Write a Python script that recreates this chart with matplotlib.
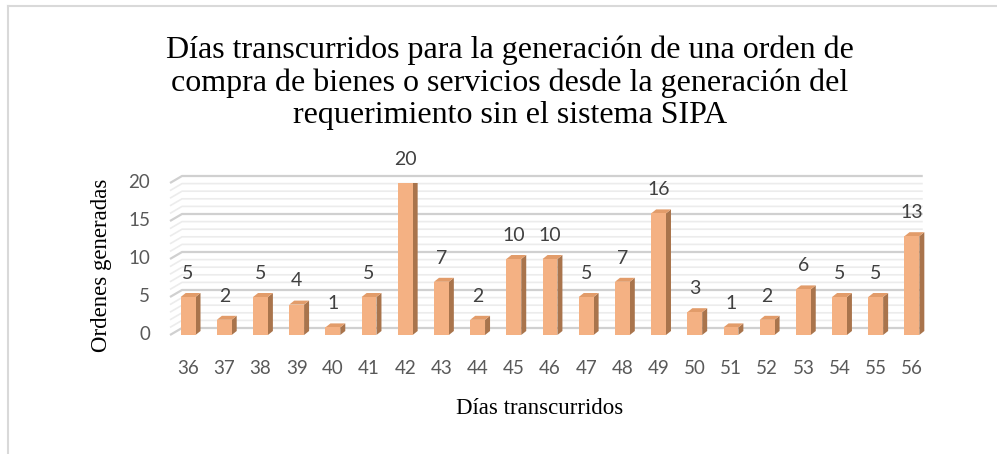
import numpy as np
import matplotlib
matplotlib.use('Agg')
import matplotlib.pyplot as plt
from matplotlib.patches import Polygon
from matplotlib.lines import Line2D

dias = ['36', '37', '38', '39', '40', '41', '42', '43', '44', '45', '46',
        '47', '48', '49', '50', '51', '52', '53', '54', '55', '56']
ordenes = [5, 2, 5, 4, 1, 5, 20, 7, 2, 10, 10, 5, 7, 16, 3, 1, 2, 6, 5, 5, 13]
yticks = [0, 5, 10, 15, 20]

title = ('Días transcurridos para la generación de una orden de\n'
         'compra de bienes o servicios desde la generación del\n'
         'requerimiento sin el sistema SIPA')

front = '#f4b183'
side = '#a9744c'
top = '#e29c6a'

fig = plt.figure(figsize=(9.97, 4.54), dpi=100)
W, H = 997, 454

# light outer frame
fig.add_artist(Line2D([8 / W, 1], [1 - 6 / H, 1 - 6 / H], color='#d9d9d9', lw=1.5))
fig.add_artist(Line2D([8 / W, 8 / W], [0, 1 - 6 / H], color='#d9d9d9', lw=1.5))

ax = fig.add_axes([170 / W, (H - 335) / H, 760 / W, 152 / H])
n = len(dias)
ax.set_xlim(-0.5, n - 0.5)
ax.set_ylim(0, 20)
for s in ax.spines.values():
    s.set_visible(False)
ax.set_xticks([])
ax.set_yticks([])

# pixel -> data conversion
sx = n / 760.0
sy = 20 / 152.0

# back wall grid (offset up/right) with perspective stub on the left
gx, gy = 12 * sx, 7 * sy
for v in range(0, 21):
    major = v % 5 == 0
    c = '#d0d0d0' if major else '#ececec'
    lw = 1.6 if major else 1.2
    ax.plot([-0.5, -0.5 + gx, n - 0.5 - 0.2], [v, v + gy, v + gy],
            color=c, lw=lw, zorder=0, clip_on=False, solid_capstyle='butt')

# bars with a simple 3D look
w = 0.41
dx, dy = 5 * sx, 4 * sy
x = np.arange(n)
ax.bar(x, ordenes, width=w, color=front, zorder=3)
for xi, h in zip(x, ordenes):
    r = xi + w / 2
    l = xi - w / 2
    ax.add_patch(Polygon([[r, 0], [r + dx, dy], [r + dx, h + dy], [r, h]],
                         closed=True, color=side, lw=0, zorder=2))
    ax.add_patch(Polygon([[l, h], [r, h], [r + dx, h + dy], [l + dx, h + dy]],
                         closed=True, color=top, lw=0, zorder=2))
    ax.annotate(str(h), (xi, h), xytext=(0, 11), textcoords='offset points',
                ha='center', va='bottom', fontsize=14, color='#404040',
                family='Lato', clip_on=False)

# tick labels
for xi, lab in zip(x, dias):
    ax.text(xi, -4.4, lab, ha='center', va='center', fontsize=13.5,
            color='#595959', family='Lato', clip_on=False)
for v in yticks:
    ax.text(-0.5 - 20 * sx, v, str(v), ha='right', va='center', fontsize=13.5,
            color='#595959', family='Lato', clip_on=False)

fig.text(510 / W, 1 - 83 / H, title, ha='center', va='center', fontsize=23,
         family='Liberation Serif', linespacing=1.14)
fig.text(540 / W, 1 - 408 / H, 'Días transcurridos', ha='center', va='center',
         fontsize=16.5, family='Liberation Serif')
fig.text(101 / W, 1 - 265 / H, 'Ordenes generadas', ha='center', va='center',
         rotation=90, fontsize=16.5, family='Liberation Serif')

fig.savefig('out.png', dpi=100)
